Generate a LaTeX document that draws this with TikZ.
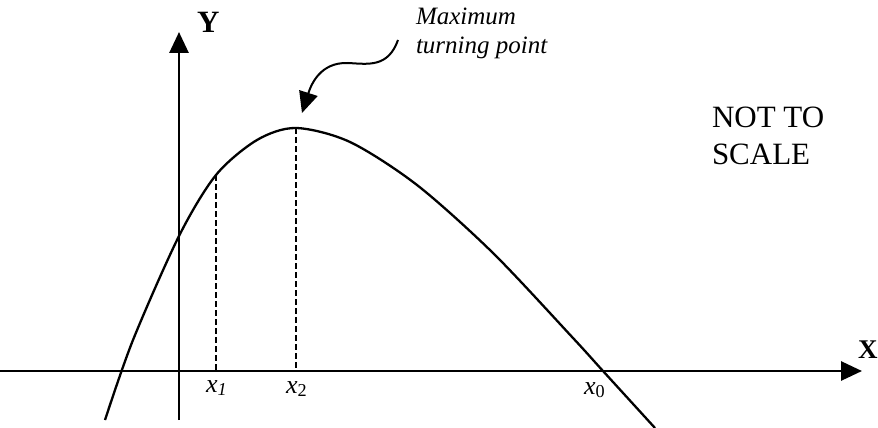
\documentclass[tikz,border=0pt]{standalone}
\usepackage{fontspec}
\setmainfont{Liberation Serif}
\usetikzlibrary{arrows.meta, positioning}

\begin{document}
\begin{tikzpicture}[x=1pt, y=-1pt, >={Triangle[length=21pt, width=19pt]},
    axis/.style={line width=2.8pt},
    curve/.style={line width=2.3pt},
    guide/.style={line width=2.2pt, dash pattern=on 6pt off 3pt},
    pointer/.style={line width=2pt},
    lab/.style={inner sep=0pt, outer sep=0pt}]
    % --- khung hinh ---
    \useasboundingbox (0,0) rectangle (878,428);
    \def\ox{179}
    \def\oy{371}

    % --- HAI TRUC TOA DO ---
    \coordinate (O) at (\ox,\oy);
    \coordinate (ybot) at (\ox,420);
    \coordinate (ytop) at (\ox,32);
    \coordinate (xleft) at (0,\oy);
    \coordinate (xright) at (862,\oy);
    \draw[axis,->] (ybot) -- (ytop);
    \draw[axis,->] (xleft) -- (xright);
    \node[lab, anchor=base west, font=\fontsize{31pt}{31pt}\selectfont\bfseries] (Ylab) at (197,33) {Y};
    \node[lab, anchor=base west, font=\fontsize{27pt}{27pt}\selectfont\bfseries] (Xlab) at (858,358) {X};

    % --- DUONG CONG ---
    \draw[curve] plot[smooth] coordinates {(105,420) (133,340) (179,236) (216,175)
        (257,140) (296,128) (350,142) (417,185) (493,253) (573,338) (603,371) (655,428)};

    % Duong dong ke tai x1, x2
    \coordinate (P1) at (216,175);
    \coordinate (P2) at (296,128);
    \draw[guide] (P1) -- (P1 |- O);
    \draw[guide] (P2) -- (P2 |- O);

    % Ki hieu cac diem tren truc X
    \tikzset{xlab/.style={lab, anchor=base west, font=\fontsize{26pt}{26pt}\selectfont}}
    \node[xlab] (x1) at (206,392) {\textit{x}\textsubscript{\textit{1}}};
    \node[xlab] (x2) at (286,393) {\textit{x}\textsubscript{2}};
    \node[xlab] (x0) at (584,394) {\textit{x}\textsubscript{0}};

    % --- GHI CHU DIEM CUC DAI ---
    \node[lab, anchor=north west, align=left, font=\fontsize{25pt}{29pt}\selectfont\itshape] (maxlab) at (416,8)
        {Maximum\\ turning point};
    \coordinate (tail) at (398,40);
    \coordinate (tip) at (302,113);
    \draw[pointer,->] (tail) .. controls (388,68) and (368,64) .. (348,63)
        .. controls (320,62) and (311,85) .. (tip);

    % Ghi chu ti le
    \node[lab, anchor=north west, align=left, font=\fontsize{31pt}{37pt}\selectfont] (scalelab) at (712,107)
        {NOT TO\\ SCALE};
\end{tikzpicture}
\end{document}
